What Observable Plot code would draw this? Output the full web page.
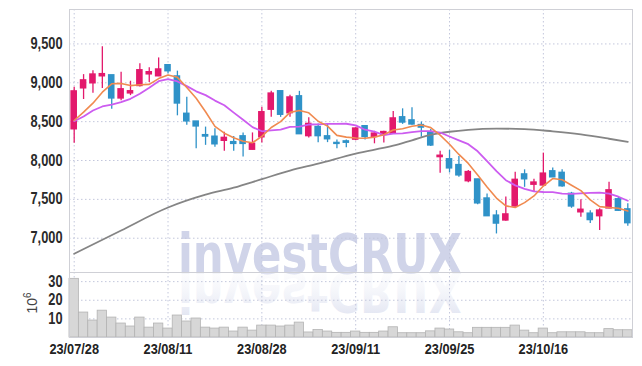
<!DOCTYPE html>
<html><head><meta charset="utf-8">
<script src="https://cdn.jsdelivr.net/npm/d3@7"></script>
<script src="https://cdn.jsdelivr.net/npm/@observablehq/plot@0.6"></script>
<style>
body{margin:0;background:#fff}
#chart{position:relative;width:642px;height:366px;overflow:hidden;background:#fff;font-family:"Liberation Sans",sans-serif}
.layer{position:absolute;left:0}
</style>
</head><body><div id="chart"></div>
<script>
const dates = ["23/07/28","23/07/31","23/08/01","23/08/02","23/08/03","23/08/04","23/08/07","23/08/08","23/08/09","23/08/10",
"23/08/11","23/08/14","23/08/16","23/08/17","23/08/18","23/08/21","23/08/22","23/08/23","23/08/24","23/08/25",
"23/08/28","23/08/29","23/08/30","23/08/31","23/09/01","23/09/04","23/09/05","23/09/06","23/09/07","23/09/08",
"23/09/11","23/09/12","23/09/13","23/09/14","23/09/15","23/09/18","23/09/19","23/09/20","23/09/21","23/09/22",
"23/09/25","23/09/26","23/09/27","23/10/04","23/10/05","23/10/06","23/10/10","23/10/11","23/10/12","23/10/13",
"23/10/16","23/10/17","23/10/18","23/10/19","23/10/20","23/10/23","23/10/24","23/10/25","23/10/26","23/10/27"];
const openP = [8403,8930,8995,9085,9095,8800,8865,8960,9110,9085,9225,9080,8600,8500,8325,8305,8255,8235,8310,8140,
8300,8655,8890,8610,8825,8315,8430,8310,8225,8245,8270,8440,8305,8330,8345,8555,8515,8455,8360,8045,
8015,7940,7735,7755,7510,7290,7230,7410,7820,7690,7680,7860,7840,7570,7335,7315,7285,7385,7500,7370];
const highP = [8943,9105,9155,9465,9095,9135,9020,9245,9195,9320,9230,9150,8815,8500,8430,8410,8365,8310,8355,8355,
8685,8890,8890,8840,8890,8550,8470,8465,8265,8265,8420,8450,8375,8375,8630,8665,8680,8495,8400,8120,
8130,8050,7870,7760,7570,7355,7530,7850,7880,7760,8095,7905,7880,7590,7495,7355,7380,7720,7535,7445];
const lowP = [8223,8785,8865,8925,8660,8770,8835,8945,9005,9080,9115,8575,8455,8150,8195,8170,8120,8120,8045,8135,
8225,8555,8555,8555,8340,8290,8230,8230,8150,8165,8255,8265,8215,8225,8340,8465,8455,8300,8180,7835,
7840,7785,7715,7430,7280,7055,7220,7400,7655,7595,7670,7780,7655,7385,7270,7190,7100,7380,7345,7155];
const closeP = [8888,9030,9105,9110,8800,8915,8890,9160,9135,9170,9150,8735,8505,8440,8310,8210,8290,8215,8215,8215,
8620,8860,8590,8810,8340,8470,8315,8275,8215,8230,8410,8305,8345,8365,8540,8490,8465,8425,8195,8060,
7900,7810,7850,7450,7285,7190,7305,7750,7760,7715,7830,7785,7670,7410,7365,7235,7355,7615,7355,7195];
const volume = [31.5,13.4,9.1,14.4,10.7,7.5,5.9,10.7,5.3,7.5,4.8,11.8,8.6,10.2,5.3,4.8,5.3,3.2,5.3,3.7,
6.4,6.4,5.9,6.4,8.0,2.7,4.0,3.2,2.5,2.5,3.2,2.5,2.5,3.2,5.5,2.3,2.3,2.3,3.3,4.8,
4.3,2.8,2.3,5.2,5.2,5.2,5.2,6.4,3.7,2.3,4.8,2.3,2.8,2.8,2.8,2.3,2.3,4.5,3.9,3.9];
const ma5 = [8515,8622,8738,8879,8987,8992,8964,8975,8980,9054,9101,9070,8939,8800,8628,8440,8351,8293,8248,8229,
8311,8425,8500,8619,8644,8614,8505,8442,8323,8301,8289,8287,8301,8331,8393,8409,8441,8457,8423,8327,
8209,8078,7963,7814,7659,7517,7416,7396,7458,7544,7672,7768,7752,7682,7612,7493,7407,7396,7385,7351];
const ma10 = [8506,8566,8644,8695,8720,8750,8794,8858,8936,9020,9047,9017,8957,8890,8841,8771,8711,8616,8524,8429,
8376,8388,8397,8434,8437,8463,8465,8471,8471,8473,8452,8396,8372,8327,8347,8349,8364,8379,8377,8360,
8309,8260,8210,8119,7993,7863,7747,7680,7636,7602,7595,7592,7574,7570,7578,7583,7588,7574,7534,7482];
const ma60At = [0,5,10,14,17,20,23,26,30,34,36,38,40,42,45,48,51,54,57,59];
const ma60 = [6800,7100,7395,7560,7650,7760,7870,7960,8090,8190,8260,8330,8370,8395,8410,8405,8375,8335,8280,8240];
const xTickLabels = ["23/07/28","23/08/11","23/08/28","23/09/11","23/09/25","23/10/16"];
const priceTicks = [7000,7500,8000,8500,9000,9500];
const volTicks = [10,20,30];

const RED = "#e3196c", BLUE = "#2f92c8", GRID = "#c3c7dc";
const FONT = '"Liberation Sans",Arial,sans-serif';
const WMFONT = '"DejaVu Sans Condensed","Liberation Sans",sans-serif';

const rows = dates.map((date, i) => ({date, open: openP[i], high: highP[i], low: lowP[i], close: closeP[i], vol: volume[i], ma5: ma5[i], ma10: ma10[i]}));
const ma60Rows = ma60At.map((k, j) => ({date: dates[k], v: ma60[j]}));
const col = d => d.close >= d.open ? RED : BLUE;

const chart = document.getElementById("chart");

// watermark (behind)
const wm = document.createElementNS("http://www.w3.org/2000/svg", "svg");
wm.setAttribute("width", 642); wm.setAttribute("height", 366);
wm.setAttribute("class", "layer"); wm.style.top = "0px";
wm.innerHTML = `
<defs><linearGradient id="fade" x1="0" y1="0" x2="0" y2="1">
<stop offset="0" stop-color="#dadeee" stop-opacity="1"/><stop offset="1" stop-color="#ffffff" stop-opacity="0.2"/></linearGradient></defs>
<text x="178" y="273" font-family='${WMFONT}' font-weight="bold" font-size="56" fill="#d0d4e9" textLength="284" lengthAdjust="spacingAndGlyphs">investCRUX</text>
<g transform="translate(0,546) scale(1,-1)"><text x="178" y="273" font-family='${WMFONT}' font-weight="bold" font-size="56" fill="url(#fade)" textLength="284" lengthAdjust="spacingAndGlyphs">investCRUX</text></g>
<text transform="translate(37,303) rotate(-90)" text-anchor="middle" font-family="Liberation Sans, sans-serif" font-size="14" fill="#444">10<tspan dy="-6" font-size="10">6</tspan></text>
`;
chart.appendChild(wm);

const common = {width: 642, marginLeft: 69, marginRight: 10,
  style: {background: "transparent", fontFamily: FONT, fontSize: "15px", color: "#333", overflow: "visible"}};

function narrow(svg, s, sel) {
  svg.querySelectorAll(sel).forEach(t => {
    const tr = t.getAttribute("transform") || "";
    const x = +(t.getAttribute("x") || 0);
    t.setAttribute("transform", `${tr} translate(${x},0) scale(${s},1) translate(${-x},0)`);
  });
}

const price = Plot.plot({
  ...common, height: 273, marginTop: 9, marginBottom: 1,
  x: {type: "band", domain: dates, padding: 0, round: false, axis: null},
  y: {domain: [6559, 9943]},
  marks: [
    Plot.gridY(priceTicks, {stroke: GRID, strokeOpacity: 1, strokeDasharray: "1.5,2.5"}),
    Plot.gridX(xTickLabels, {stroke: GRID, strokeOpacity: 1, strokeDasharray: "1.5,2.5"}),
    Plot.frame({stroke: "#cfd0d6"}),
    Plot.ruleX(rows, {x: "date", y1: "low", y2: "high", stroke: col, strokeWidth: 1.3}),
    Plot.barY(rows, {x: "date", y1: "open", y2: "close", fill: col, insetLeft: 1.4, insetRight: 1.4, insetTop: -0.8, insetBottom: -0.8}),
    Plot.line(ma60Rows, {x: "date", y: "v", stroke: "#858585", strokeWidth: 1.8, curve: "monotone-x"}),
    Plot.line(rows, {x: "date", y: "ma10", stroke: "#cc5cf0", strokeWidth: 1.8}),
    Plot.line(rows, {x: "date", y: "ma5", stroke: "#f08a50", strokeWidth: 1.6}),
    Plot.axisY(priceTicks, {label: null, tickSize: 0, tickPadding: 7, tickFormat: d3.format(","), fill: "#2a2a2a", fontSize: 16, fontWeight: "bold"})
  ]
});
narrow(price, 0.8, 'g[aria-label="y-axis tick label"] text');
price.setAttribute("class", "layer"); price.style.top = "0px";
chart.appendChild(price);

const vol = Plot.plot({
  ...common, height: 94, marginTop: 0, marginBottom: 29,
  x: {type: "band", domain: dates, padding: 0, round: false},
  y: {domain: [0, 34.9]},
  marks: [
    Plot.gridY(volTicks, {stroke: GRID, strokeOpacity: 1, strokeDasharray: "1.5,2.5"}),
    Plot.gridX(xTickLabels, {stroke: GRID, strokeOpacity: 1, strokeDasharray: "1.5,2.5"}),
    Plot.barY(rows, {x: "date", y: "vol", fill: "#d7d7d7", stroke: "#b3b3b3", strokeWidth: 0.8}),
    Plot.frame({stroke: "#cfd0d6"}),
    Plot.axisY(volTicks, {label: null, tickSize: 0, tickPadding: 7, fill: "#2a2a2a", fontSize: 16, fontWeight: "bold"}),
    Plot.axisX(xTickLabels, {label: null, tickSize: 0, tickPadding: 6, fill: "#222", fontSize: 15, fontWeight: "bold"})
  ]
});
narrow(vol, 0.8, 'g[aria-label="y-axis tick label"] text');
narrow(vol, 0.85, 'g[aria-label="x-axis tick label"] text');
vol.setAttribute("class", "layer"); vol.style.top = "272px";
chart.appendChild(vol);
</script>
</body></html>
